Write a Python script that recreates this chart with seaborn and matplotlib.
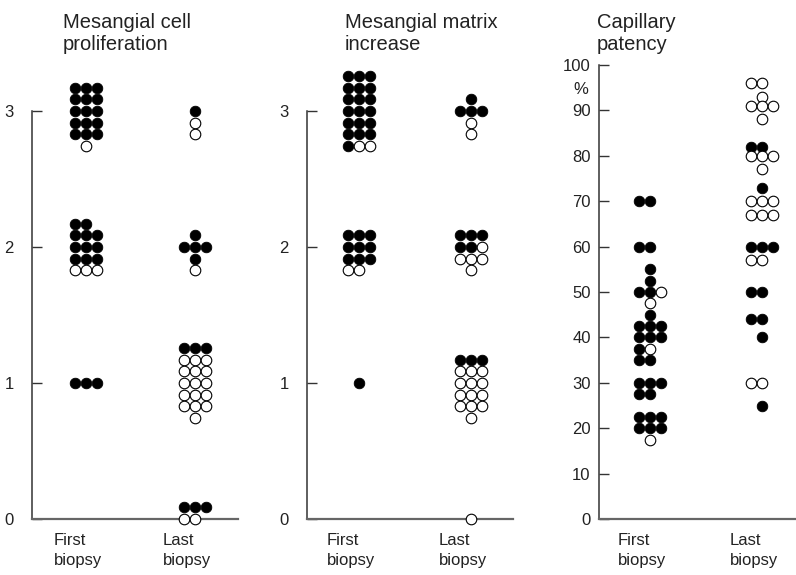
import matplotlib
matplotlib.use("Agg")
import matplotlib.pyplot as plt
import matplotlib.transforms as mtrans
import pandas as pd
import seaborn as sns

groups = ["First\nbiopsy", "Last\nbiopsy"]

# scored panels: (score, rows of dots from top to bottom, row that sits on the score)
# F = filled dot, O = open dot, . = empty place
cell_first = [
    (3, ["FFF", "FFF", "FFF", "FFF", "FFF", ".O."], 2),
    (2, ["FF.", "FFF", "FFF", "FFF", "OOO"], 2),
    (1, ["FFF"], 0),
]
cell_last = [
    (3, [".F.", ".O.", ".O."], 0),
    (2, [".F.", "FFF", ".F.", ".O."], 1),
    (1, ["FFF", "OOO", "OOO", "OOO", "OOO", "OOO", ".O."], 3),
    (0, ["FFF", "OO."], 1),
]
matrix_first = [
    (3, ["FFF", "FFF", "FFF", "FFF", "FFF", "FFF", "FOO"], 3),
    (2, ["FFF", "FFF", "FFF", "OO."], 1),
    (1, [".F."], 0),
]
matrix_last = [
    (3, [".F.", "FFF", ".O.", ".O."], 1),
    (2, ["FFF", "FFO", "OOO", ".O."], 1),
    (1, ["FFF", "OOO", "OOO", "OOO", "OOO", ".O."], 2),
    (0, [".O."], 0),
]

# capillary patency (%)
cap_first_filled = [70, 70, 60, 60, 55, 52.5, 50, 50, 45, 42.5, 42.5, 42.5,
                    40, 40, 40, 37.5, 35, 35, 30, 30, 30, 27.5, 27.5,
                    22.5, 22.5, 22.5, 20, 20, 20]
cap_first_open = [50, 47.5, 37.5, 17.5]
cap_last_filled = [82, 82, 73, 60, 60, 60, 50, 50, 44, 44, 40, 25]
cap_last_open = [96, 96, 93, 91, 91, 91, 88, 80, 80, 80, 77, 70, 70, 70,
                 67, 67, 67, 57, 57, 30, 30]

COL_PX = 11.4
ROW_PX = 11.7
DOT_S = 58
INK = "#222222"
TICK_FS = 12
TITLE_FS = 14.5

sns.set_theme(style="white")
plt.rcParams["font.family"] = ["Liberation Sans", "DejaVu Sans"]

fig = plt.figure(figsize=(7.96, 5.75), dpi=100)
W, H = 796, 575


def make_axes(left_px, right_px, xlim, ylim, bounds):
    ax = fig.add_axes([left_px / W, (H - 519) / H, (right_px - left_px) / W, (519 - 65) / H])
    ax.set_xlim(*xlim)
    ax.set_ylim(*ylim)
    sns.despine(ax=ax)
    ax.spines["left"].set_bounds(*bounds)
    ax.spines["left"].set_color("#333333")
    ax.spines["left"].set_linewidth(1.1)
    ax.spines["bottom"].set_color("#666666")
    ax.spines["bottom"].set_linewidth(1.6)
    ax.set_xticks([0, 1])
    ax.set_xticklabels(groups, fontsize=TICK_FS, color=INK, linespacing=1.45)
    ax.tick_params(axis="x", length=0, pad=10)
    shift = mtrans.ScaledTranslation(-8 / 100, 0, fig.dpi_scale_trans)
    for lab in ax.get_xticklabels():
        lab.set_transform(lab.get_transform() + shift)
        lab.set_multialignment("left")
    ax.grid(False)
    return ax


def px_units(ax):
    bb = ax.get_window_extent()
    x0, x1 = ax.get_xlim()
    y0, y1 = ax.get_ylim()
    return (x1 - x0) / bb.width, (y1 - y0) / bb.height


def scored_frame(ax, clusters, g):
    ux, uy = px_units(ax)
    recs = []
    for score, rows, anchor in clusters:
        for r, row in enumerate(rows):
            for c, ch in enumerate(row):
                if ch == ".":
                    continue
                recs.append({"x": g + (c - 1) * COL_PX * ux,
                             "y": score + (anchor - r) * ROW_PX * uy,
                             "kind": "filled" if ch == "F" else "open"})
    return recs


def value_frame(ax, filled, opened, g):
    ux, _ = px_units(ax)
    recs = []
    for v in sorted(set(filled) | set(opened), reverse=True):
        kinds = ["filled"] * filled.count(v) + ["open"] * opened.count(v)
        cols = [1] if len(kinds) == 1 else list(range(len(kinds)))
        for c, k in zip(cols, kinds):
            recs.append({"x": g + (c - 1) * COL_PX * ux, "y": v, "kind": k})
    return recs


def draw(ax, recs):
    df = pd.DataFrame(recs)
    sns.scatterplot(data=df[df.kind == "filled"], x="x", y="y", ax=ax, s=DOT_S,
                    color="black", edgecolor="black", linewidth=0.6,
                    clip_on=False, zorder=3, legend=False)
    sns.scatterplot(data=df[df.kind == "open"], x="x", y="y", ax=ax, s=DOT_S,
                    facecolor="white", edgecolor="black", linewidth=0.8,
                    clip_on=False, zorder=3, legend=False)
    ax.set_xlabel("")
    ax.set_ylabel("")


def style_y(ax, pad):
    ax.tick_params(axis="y", left=True, direction="in", length=7, width=1.0,
                   pad=pad, labelsize=TICK_FS, labelcolor=INK, color="#333333")


# panel 1
ax1 = make_axes(32, 238, (-0.495, 1.394), (0, 3.338), (0, 3))
draw(ax1, scored_frame(ax1, cell_first, 0) + scored_frame(ax1, cell_last, 1))
ax1.set_yticks([0, 1, 2, 3])
style_y(ax1, 13)
ax1.text(0.150, 1.115, "Mesangial cell\nproliferation", transform=ax1.transAxes,
         ha="left", va="top", fontsize=TITLE_FS, color=INK, linespacing=1.2)

# panel 2
ax2 = make_axes(307, 513, (-0.464, 1.375), (0, 3.338), (0, 3))
draw(ax2, scored_frame(ax2, matrix_first, 0) + scored_frame(ax2, matrix_last, 1))
ax2.set_yticks([0, 1, 2, 3])
style_y(ax2, 13)
ax2.text(0.184, 1.115, "Mesangial matrix\nincrease", transform=ax2.transAxes,
         ha="left", va="top", fontsize=TITLE_FS, color=INK, linespacing=1.2)

# panel 3
ax3 = make_axes(599, 796, (-0.455, 1.304), (0, 100), (0, 100))
draw(ax3, value_frame(ax3, cap_first_filled, cap_first_open, 0)
     + value_frame(ax3, cap_last_filled, cap_last_open, 1))
ax3.set_yticks(range(0, 101, 10))
style_y(ax3, 6)
ax3.annotate("%", xy=(0, 94.5), xycoords=ax3.get_yaxis_transform(),
             xytext=(-8, 0), textcoords="offset points", ha="right", va="center",
             fontsize=TICK_FS, color=INK)
ax3.text(-0.01, 1.115, "Capillary\npatency", transform=ax3.transAxes,
         ha="left", va="top", fontsize=TITLE_FS, color=INK, linespacing=1.2)

fig.savefig("out.png", dpi=100)
